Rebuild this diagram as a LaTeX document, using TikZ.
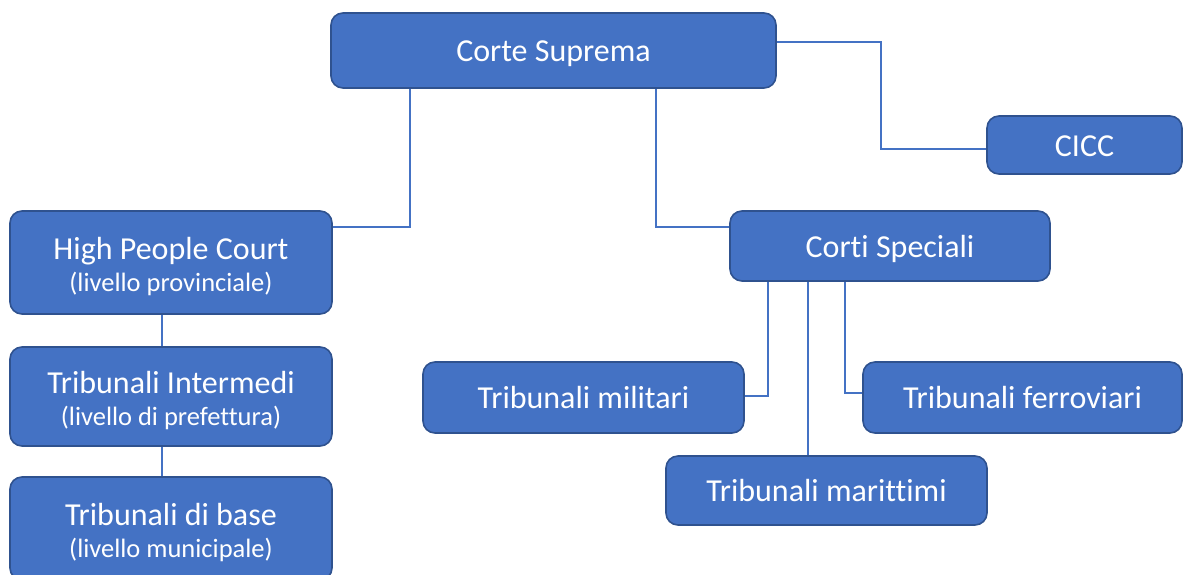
\documentclass[tikz,border=0pt]{standalone}
\usepackage{fontspec}
\setmainfont{Carlito}[Ligatures=NoCommon]
\definecolor{boxblue}{HTML}{4472C4}
\definecolor{bord}{HTML}{2F528F}
\definecolor{linec}{HTML}{4472C4}
\begin{document}
\begin{tikzpicture}[x=1pt,y=-1pt,
  blueshape/.style={draw=bord, fill=boxblue, line width=1.6pt, rounded corners=12pt,
    inner sep=0pt},
  box/.style={blueshape, label={[boxtext]center:{#1}}},
  twobox/.style={blueshape, label={[twotext]center:{#1}}},
  boxtext/.style={text=white, inner sep=0pt, yshift=-3.8pt,
    text height=22pt, text depth=7pt,
    font=\fontsize{32}{35}\selectfont},
  twotext/.style={text=white, inner sep=0pt, align=center, yshift=-4.5pt,
    font=\fontsize{32}{35}\selectfont},
  conn/.style={draw=linec, line width=1.2pt}]
\useasboundingbox (0,0) rectangle (1183,574);
\begin{scope}
\clip (0,0) rectangle (1183,574);
\node[box={Corte Suprema}, minimum width=445pt, minimum height=75pt] (CS) at (553.5,50.5) {};
\node[box={CICC}, minimum width=195pt, minimum height=58pt] (CICC) at (1084.5,145) {};
\node[box={Corti Speciali}, minimum width=320pt, minimum height=70pt] (CSP) at (890,246) {};
\node[twobox={High People Court\\[-3pt]{\fontsize{26.5}{30}\selectfont (livello provinciale)}}, minimum width=322pt, minimum height=103pt] (HPC) at (171,262.5) {};
\node[twobox={Tribunali Intermedi\\[-3pt]{\fontsize{26.5}{30}\selectfont (livello di prefettura)}}, minimum width=322pt, minimum height=99pt] (TI) at (171,396.5) {};
\node[twobox={Tribunali di base\\[-3pt]{\fontsize{26.5}{30}\selectfont (livello municipale)}}, minimum width=322pt, minimum height=103pt] (TB) at (171,528.5) {};
\node[box={Tribunali militari}, minimum width=321pt, minimum height=71pt] (TMI) at (583.5,397.5) {};
\node[box={Tribunali ferroviari}, minimum width=319pt, minimum height=71pt] (TFE) at (1022.5,397.5) {};
\node[box={Tribunali marittimi}, minimum width=321pt, minimum height=69pt] (TMA) at (826.5,490.5) {};
\end{scope}
\draw[conn] (CS.south -| 410,0) |- (HPC.east |- 0,227);
\draw[conn] (CS.south -| 656,0) |- (CSP.west |- 0,227);
\draw[conn] (CS.east |- 0,42) -- (881,42) -- (881,149) -- (CICC.west |- 0,149);
\draw[conn] (CSP.south -| 768,0) |- (TMI.east |- 0,396);
\draw[conn] (CSP.south -| 845,0) |- (TFE.west |- 0,393);
\draw[conn] (CSP.south -| 808,0) -- (TMA.north -| 808,0);
\draw[conn] (HPC.south -| 162,0) -- (TI.north -| 162,0);
\draw[conn] (TI.south -| 162,0) -- (TB.north -| 162,0);
\end{tikzpicture}
\end{document}
